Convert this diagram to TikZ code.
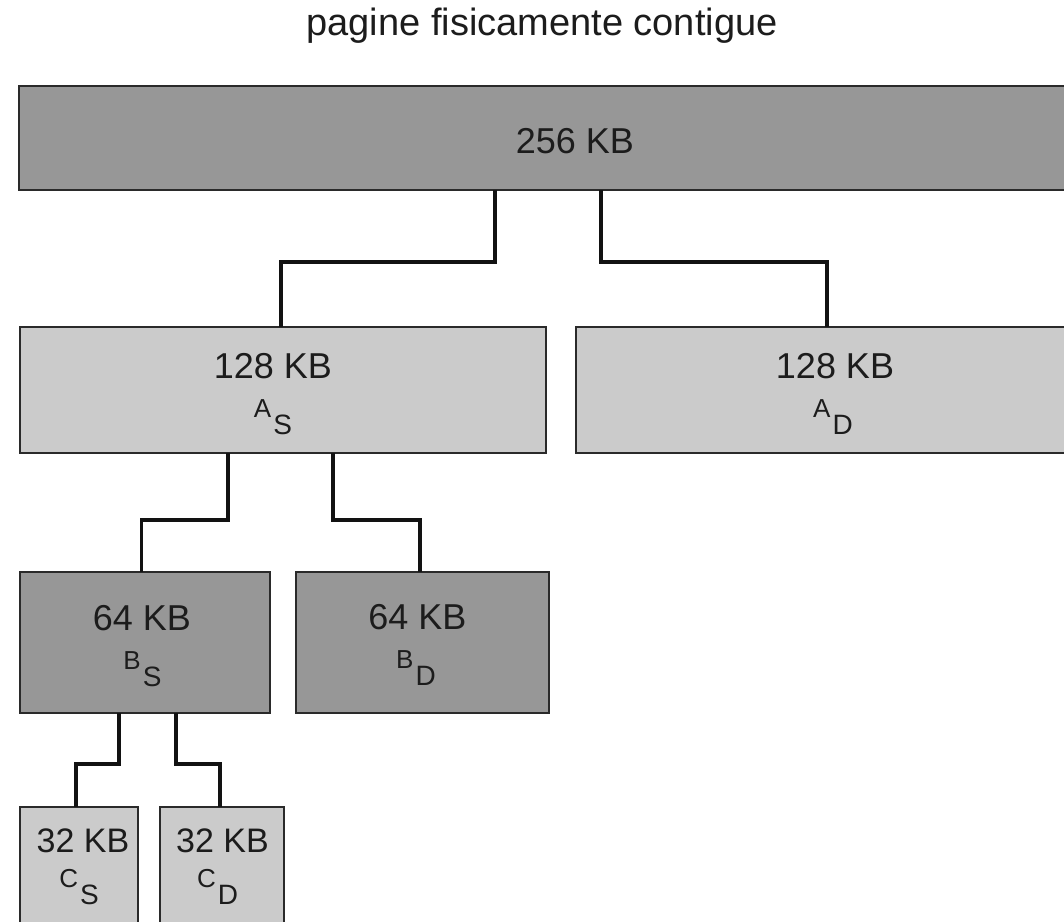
\documentclass[tikz,border=0pt]{standalone}
\usepackage{fontspec}
\setmainfont{Liberation Sans}
\definecolor{darkfill}{HTML}{979797}
\definecolor{lightfill}{HTML}{CBCBCB}
\definecolor{edge}{HTML}{2A2A2A}
\definecolor{ink}{HTML}{1C1C1C}
\newcommand\sublab[2]{{\fontsize{26}{26}\selectfont #1}\hspace{2pt}\raisebox{-17pt}{\fontsize{28}{28}\selectfont #2}}
\tikzset{
  blk/.style={draw=edge, line width=2pt, rectangle, inner sep=0pt, outer sep=0pt},
  darkblk/.style={blk, fill=darkfill},
  lightblk/.style={blk, fill=lightfill},
  big/.style={anchor=base, text=ink, inner sep=0pt, font=\fontsize{36}{36}\selectfont},
  small/.style={anchor=base, text=ink, inner sep=0pt},
  conn/.style={draw=black!93, line width=3.5pt, line join=miter}
}
\begin{document}
\begin{tikzpicture}[x=1pt, y=-1pt]
\useasboundingbox (0,0) rectangle (1064,921);
\clip (0,0) rectangle (1064,921);
\fill[white] (0,0) rectangle (1064,921);

\node[big, font=\fontsize{38}{38}\selectfont] (title) at (542,35) {pagine fisicamente contigue};

% boxes
\node[darkblk, minimum width=1109pt, minimum height=104pt] (top) at (573.5,138) {};
\node[lightblk, minimum width=526pt, minimum height=126pt] (as) at (283,390) {};
\node[lightblk, minimum width=526pt, minimum height=126pt] (ad) at (838.5,390) {};
\node[darkblk, minimum width=250pt, minimum height=141pt] (bs) at (145,642.5) {};
\node[darkblk, minimum width=253.5pt, minimum height=141pt] (bd) at (422.25,642.5) {};
\node[lightblk, minimum width=118pt, minimum height=141pt] (cs) at (79,877.5) {};
\node[lightblk, minimum width=124.5pt, minimum height=141pt] (cd) at (221.75,877.5) {};

% texts
\node[big] (topT) at (575,153) {256 KB};
\node[big] (asT) at (273,378) {128 KB};
\node[small] (asS) at (273,417) {\sublab{A}{S}};
\node[big] (adT) at (835,378) {128 KB};
\node[small] (adS) at (833,417) {\sublab{A}{D}};
\node[big] (bsT) at (142,630) {64 KB};
\node[small] (bsS) at (142.5,669) {\sublab{B}{S}};
\node[big] (bdT) at (417.5,629) {64 KB};
\node[small] (bdS) at (416,668) {\sublab{B}{D}};
\node[big, font=\fontsize{34}{34}\selectfont] (csT) at (83,852) {32 KB};
\node[small] (csS) at (79,887) {\sublab{C}{S}};
\node[big, font=\fontsize{34}{34}\selectfont] (cdT) at (222.5,852) {32 KB};
\node[small] (cdS) at (217.5,887) {\sublab{C}{D}};

% connectors
\draw[conn] ([xshift=-78.5pt]top.south) -- ++(0,72) -| ([xshift=-2pt]as.north);
\draw[conn] ([xshift=27.5pt]top.south) -- ++(0,72) -| ([xshift=-11.5pt]ad.north);
\draw[conn] ([xshift=-55pt]as.south) -- ++(0,67) -| ([xshift=-3.3pt]bs.north);
\draw[conn] ([xshift=50pt]as.south) -- ++(0,67) -| ([xshift=-2.25pt]bd.north);
\draw[conn] ([xshift=-26pt]bs.south) -- ++(0,51) -| ([xshift=-3pt]cs.north);
\draw[conn] ([xshift=31pt]bs.south) -- ++(0,51) -| ([xshift=-1.75pt]cd.north);
\end{tikzpicture}
\end{document}
